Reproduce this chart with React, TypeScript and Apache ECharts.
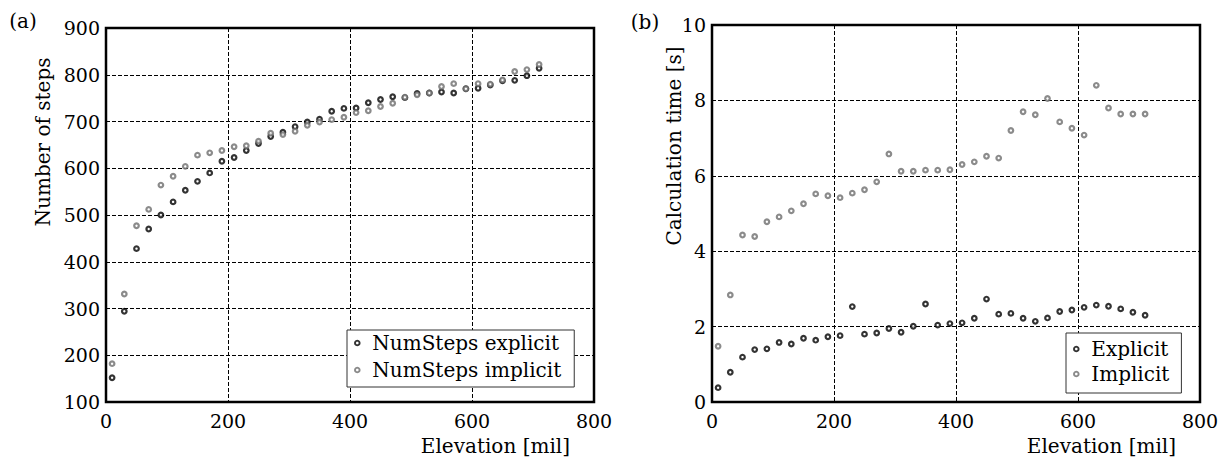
import React, { useEffect, useRef } from "react";
import * as echarts from "echarts";

const elevation = [10, 30, 50, 70, 90, 110, 130, 150, 170, 190, 210, 230, 250, 270, 290, 310, 330, 350, 370, 390, 410, 430, 450, 470, 490, 510, 530, 550, 570, 590, 610, 630, 650, 670, 690, 710];

const stepsExplicit = [152, 294, 428, 470, 500, 528, 553, 572, 590, 615, 623, 638, 653, 668, 677, 689, 699, 705, 722, 728, 729, 740, 747, 753, 751, 760, 761, 763, 761, 770, 771, 778, 787, 788, 798, 814];
const stepsImplicit = [182, 331, 477, 512, 564, 583, 604, 628, 633, 638, 646, 648, 658, 675, 672, 679, 692, 699, 704, 709, 719, 723, 732, 739, 752, 757, 761, 775, 781, 770, 781, 780, 789, 807, 811, 822];

const timeExplicit = [0.38, 0.79, 1.19, 1.39, 1.41, 1.58, 1.54, 1.69, 1.64, 1.73, 1.76, 2.53, 1.8, 1.83, 1.95, 1.85, 2.01, 2.6, 2.04, 2.08, 2.1, 2.22, 2.73, 2.33, 2.35, 2.22, 2.14, 2.23, 2.4, 2.44, 2.51, 2.57, 2.54, 2.47, 2.38, 2.3];
const timeImplicit = [1.48, 2.84, 4.43, 4.39, 4.78, 4.91, 5.07, 5.26, 5.52, 5.47, 5.42, 5.54, 5.63, 5.84, 6.58, 6.12, 6.12, 6.15, 6.15, 6.16, 6.3, 6.37, 6.52, 6.47, 7.2, 7.7, 7.62, 8.05, 7.43, 7.26, 7.08, 8.4, 7.8, 7.64, 7.64, 7.64];

const FONT = '"DejaVu Serif", "Liberation Serif", serif';
const BLACK = "#000000";
const GREY = "#6e6e6e";

function pairs(ys: number[]) {
  return elevation.map((x, i) => [x, ys[i]]);
}

function scatter(name: string, ys: number[], color: string, idx: number) {
  return {
    type: "scatter",
    name,
    xAxisIndex: idx,
    yAxisIndex: idx,
    data: pairs(ys),
    symbol: "circle",
    symbolSize: 4.6,
    itemStyle: { color: "#ffffff", borderColor: color, borderWidth: 2.2 },
    emphasis: { disabled: true },
  };
}

const splitLine = { show: true, lineStyle: { color: "#000", width: 1, type: [4, 2] } };
const axisLabel = { color: "#000", fontFamily: FONT, fontSize: 19 };

function xAxis(idx: number) {
  return {
    type: "value",
    gridIndex: idx,
    min: 0,
    max: 800,
    interval: 200,
    axisLine: { show: false },
    axisTick: { show: false },
    axisLabel: { ...axisLabel, margin: 9 },
    splitLine,
  };
}

function legend(names: string[], left: number, top: number, padding: number[], gap: number) {
  return {
    data: names,
    orient: "vertical",
    left,
    top,
    padding,
    itemGap: gap,
    itemWidth: 20,
    itemHeight: 4.6,
    backgroundColor: "#fff",
    borderColor: "#333",
    borderWidth: 1,
    borderRadius: 0,
    selectedMode: false,
    textStyle: { fontFamily: FONT, fontSize: 20, color: "#000" },
  };
}

function label(text: string, x: number, y: number, align: string, rot = 0) {
  return {
    type: "text",
    x,
    y,
    rotation: rot,
    style: {
      text,
      font: `20px ${FONT}`,
      fill: "#000",
      textAlign: align,
      textVerticalAlign: "middle",
    },
  };
}

export default function App() {
  const ref = useRef<HTMLDivElement>(null);
  useEffect(() => {
    if (!ref.current) return;
    const chart = echarts.init(ref.current, undefined, { renderer: "svg" });
    chart.setOption({
      animation: false,
      backgroundColor: "#fff",
      grid: [
        { left: 106, top: 28, width: 488, height: 374, show: true, borderColor: "#000", borderWidth: 2.5, backgroundColor: "transparent" },
        { left: 712, top: 25, width: 488, height: 377, show: true, borderColor: "#000", borderWidth: 2.5, backgroundColor: "transparent" },
      ],
      xAxis: [xAxis(0), xAxis(1)],
      yAxis: [
        {
          type: "value",
          gridIndex: 0,
          min: 100,
          max: 900,
          interval: 100,
          axisLine: { show: false },
          axisTick: { show: false },
          axisLabel: { ...axisLabel, margin: 6 },
          splitLine,
        },
        {
          type: "value",
          gridIndex: 1,
          min: 0,
          max: 10,
          interval: 2,
          axisLine: { show: false },
          axisTick: { show: false },
          axisLabel: { ...axisLabel, margin: 6 },
          splitLine,
        },
      ],
      legend: [
        legend(["NumSteps explicit", "NumSteps implicit"], 347, 330, [3, 13, 7, 7], 7),
        legend(["Explicit", "Implicit"], 1066, 333, [6, 12, 9, 7], 5),
      ],
      series: [
        scatter("NumSteps explicit", stepsExplicit, BLACK, 0),
        scatter("NumSteps implicit", stepsImplicit, GREY, 0),
        scatter("Explicit", timeExplicit, BLACK, 1),
        scatter("Implicit", timeImplicit, GREY, 1),
      ],
      graphic: [
        label("(a)", 23, 21, "center"),
        label("(b)", 645, 22, "center"),
        label("Number of steps", 43, 142, "center", Math.PI / 2),
        label("Calculation time [s]", 674, 146, "center", Math.PI / 2),
        label("Elevation [mil]", 570, 446, "right"),
        label("Elevation [mil]", 1176, 446, "right"),
      ],
    });
    return () => chart.dispose();
  }, []);
  return (
    <div
      ref={ref}
      style={{ position: "fixed", left: 0, top: 0, width: 1228, height: 459, background: "#fff" }}
    />
  );
}
